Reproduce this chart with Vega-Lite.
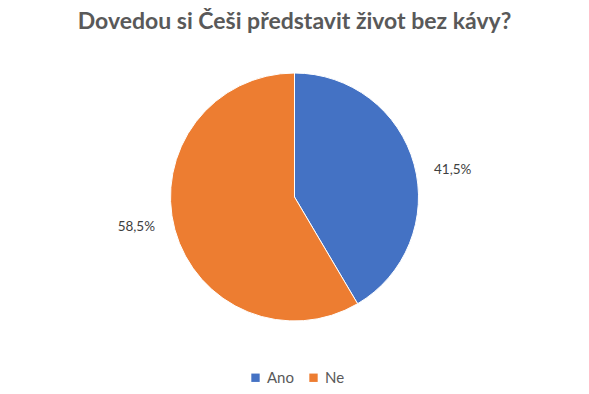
{
  "$schema": "https://vega.github.io/schema/vega-lite/v6.json",
  "width": 589,
  "height": 304,
  "padding": {"top": 45, "bottom": 45, "left": 0, "right": 0},
  "autosize": {"type": "none"},
  "background": "white",
  "title": {
    "text": "Dovedou si Češi představit život bez kávy?",
    "font": "Lato",
    "fontSize": 23,
    "fontWeight": "bold",
    "color": "#595959",
    "anchor": "middle",
    "offset": 11
  },
  "data": {
    "values": [
      {"odpoved": "Ano", "podil": 41.5, "stitek": "41,5%"},
      {"odpoved": "Ne", "podil": 58.5, "stitek": "58,5%"}
    ]
  },
  "encoding": {
    "theta": {"field": "podil", "type": "quantitative", "stack": true},
    "order": {"field": "odpoved", "type": "nominal"}
  },
  "layer": [
    {
      "mark": {"type": "arc", "outerRadius": 124, "stroke": "white", "strokeWidth": 1},
      "encoding": {
        "color": {
          "field": "odpoved",
          "type": "nominal",
          "scale": {"domain": ["Ano", "Ne"], "range": ["#4472C4", "#ED7D31"]},
          "legend": {
            "title": null,
            "orient": "none",
            "direction": "horizontal",
            "legendX": 248,
            "legendY": 325,
            "symbolType": "square",
            "symbolSize": 70,
            "symbolStrokeWidth": 0,
            "labelFont": "Lato",
            "labelFontSize": 15,
            "labelColor": "#595959",
            "columnPadding": 12,
            "padding": 0
          }
        }
      }
    },
    {
      "mark": {"type": "text", "radius": 164, "dy": 16, "font": "Lato", "fontSize": 13.5, "color": "#404040"},
      "encoding": {
        "text": {"condition": {"test": "datum.odpoved === 'Ano'", "field": "stitek"}, "value": ""}
      }
    },
    {
      "mark": {"type": "text", "radius": 164, "dy": -13, "font": "Lato", "fontSize": 13.5, "color": "#404040"},
      "encoding": {
        "text": {"condition": {"test": "datum.odpoved === 'Ne'", "field": "stitek"}, "value": ""}
      }
    }
  ],
  "config": {"view": {"stroke": null}}
}
